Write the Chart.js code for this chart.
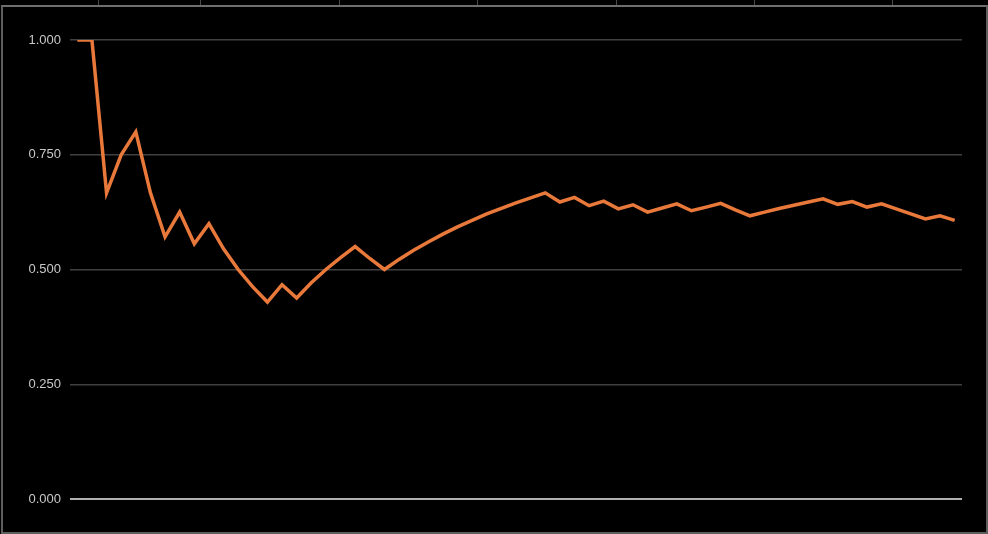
<!DOCTYPE html>
<html>
<head>
<meta charset="utf-8">
<script src="https://cdn.jsdelivr.net/npm/chart.js@4/dist/chart.umd.min.js"></script>
<style>
  html, body { margin: 0; padding: 0; background: #000; }
  #wrap { position: relative; width: 988px; height: 534px; overflow: hidden; background: #000; }
  #frame { position: absolute; left: 1px; top: 5px; width: 983px; height: 525px;
           border: 2px solid #5e5e5e; border-top-color: #6e6e6e; }
  .tick { position: absolute; top: 0; width: 1px; height: 5px; background: #4a4a4a; }
  canvas { position: absolute; left: 0; top: 0; }
</style>
</head>
<body>
<div id="wrap">
  <div id="frame"></div>
  <div class="tick" style="left:98px"></div>
  <div class="tick" style="left:200px"></div>
  <div class="tick" style="left:339px"></div>
  <div class="tick" style="left:477px"></div>
  <div class="tick" style="left:616px"></div>
  <div class="tick" style="left:754px"></div>
  <div class="tick" style="left:892px"></div>
  <canvas id="rateChart" width="988" height="534"></canvas>
</div>
<script>
// running ratio, one value per game
const games = Array.from({ length: 61 }, (_, i) => String(i + 1));
const ratio = [
  1.000, 1.000, 0.667, 0.750, 0.800, 0.667, 0.571, 0.625, 0.556, 0.600,
  0.545, 0.500, 0.462, 0.429, 0.467, 0.438, 0.471, 0.500, 0.526, 0.550,
  0.524, 0.500, 0.522, 0.542, 0.560, 0.577, 0.593, 0.607, 0.621, 0.633,
  0.645, 0.656, 0.667, 0.647, 0.657, 0.639, 0.649, 0.632, 0.641, 0.625,
  0.634, 0.643, 0.628, 0.636, 0.644, 0.630, 0.617, 0.625, 0.633, 0.640,
  0.647, 0.654, 0.642, 0.648, 0.636, 0.643, 0.632, 0.621, 0.610, 0.617,
  0.607
];
const yTicks = [0, 0.25, 0.5, 0.75, 1];

const ctx = document.getElementById('rateChart').getContext('2d');
const rateChart = new Chart(ctx, {
    type: 'line',
    data: {
        labels: games,
        datasets: [{
            data: ratio,
            borderColor: '#e8793a',
            borderWidth: 3.5,
            pointRadius: 0,
            tension: 0,
            fill: false
        }]
    },
    options: {
        responsive: false,
        animation: false,
        layout: { padding: { left: 0, right: 26, top: 40, bottom: 35 } },
        plugins: { legend: { display: false }, tooltip: { enabled: false } },
        scales: {
            x: {
                type: 'category',
                offset: true,
                display: false
            },
            y: {
                min: 0,
                max: 1,
                afterBuildTicks: scale => { scale.ticks = yTicks.map(v => ({ value: v })); },
                afterFit: scale => { scale.width = 70; },
                border: { display: false },
                grid: {
                    drawTicks: false,
                    color: c => c.tick && c.tick.value === 0 ? '#b0b0b0' : '#404040',
                    lineWidth: c => c.tick && c.tick.value === 0 ? 2 : 1.5
                },
                ticks: {
                    padding: 9,
                    color: '#c8c8c8',
                    font: { family: 'Liberation Sans, Arial, sans-serif', size: 13 },
                    callback: v => v.toFixed(3)
                }
            }
        }
    }
});
</script>
</body>
</html>
